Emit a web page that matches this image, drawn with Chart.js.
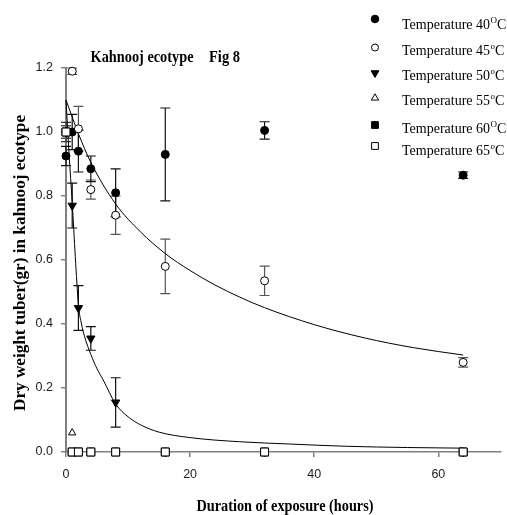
<!DOCTYPE html>
<html>
<head>
<meta charset="utf-8">
<script src="https://cdn.jsdelivr.net/npm/chart.js@4.4.0/dist/chart.umd.min.js"></script>
<style>
html, body { margin: 0; padding: 0; background: #fff; }
#wrap { width: 507px; height: 515px; }
</style>
</head>
<body>
<div id="wrap"><canvas id="myChart" width="507" height="515"></canvas></div>
<script>
// sampling times (hours)
const hours = [0, 1, 2, 4, 8, 16, 32, 64];

// mean dry weight per temperature + error bar half-length
const temp40 = [0.925, 1.0, 0.94, 0.885, 0.81, 0.93, 1.005, 0.865];
const err40 = [0.03, 0.055, 0.065, 0.04, 0.075, 0.145, 0.027, 0.01];
const temp45 = [1.0, 1.19, 1.01, 0.82, 0.74, 0.58, 0.535, 0.28];
const err45 = [0.02, 0.01, 0.07, 0.03, 0.06, 0.085, 0.046, 0.015];
const temp50 = [1.0, 0.77, 0.45, 0.355, 0.155, 0, 0, 0];
const err50 = [0.02, 0.07, 0.07, 0.037, 0.077, 0, 0, 0];
const temp55 = [1.0, 0.06, 0, 0, 0, 0, 0, 0];
const temp60 = [1.0, 0, 0, 0, 0, 0, 0, 0];
const temp65 = [1.0, 0, 0, 0, 0, 0, 0, 0];
const err65 = [0.03, 0, 0, 0, 0, 0, 0, 0];

// fitted curves
const slowFitX = [0, 2, 4, 8, 12, 16, 20, 24, 28, 32, 40, 48, 56, 64];
const slowFitY = [1.1, 0.995, 0.905, 0.775, 0.688, 0.62, 0.567, 0.522, 0.484, 0.451, 0.398, 0.357, 0.326, 0.303];
const fastFitX = [0, 0.5, 1, 1.5, 2, 2.5, 3, 4, 5, 6, 8, 10, 12, 15, 20, 28, 36, 45, 55, 64];
const fastFitY = [1.1, 0.93, 0.78, 0.61, 0.46, 0.4, 0.36, 0.305, 0.26, 0.225, 0.15, 0.11, 0.085, 0.062, 0.045, 0.032, 0.025, 0.018, 0.014, 0.012];

const legendTemps = ["40", "45", "50", "55", "60", "65"];
const legendSup = ["O", "o", "o", "o", "O", "o"];

const toPts = (xs, ys) => xs.map((x, i) => ({ x: x, y: ys[i] }));

function markerSet(values, errors, errColor, style, filled, radius, rotation, order) {
  return {
    data: toPts(hours, values),
    errors: errors,
    errColor: errColor,
    showLine: false,
    pointStyle: style,
    pointRadius: radius,
    pointRotation: rotation,
    pointBackgroundColor: filled ? "#000" : "#fff",
    pointBorderColor: "#000",
    pointBorderWidth: 1,
    clip: false,
    order: order,
  };
}

function fitSet(xs, ys) {
  return {
    data: toPts(xs, ys),
    showLine: true,
    borderColor: "#000",
    borderWidth: 1,
    pointRadius: 0,
    cubicInterpolationMode: "monotone",
    fill: false,
    clip: false,
    order: 10,
  };
}

const legendStyles = [
  { style: "circle", filled: true, r: 3.8, rot: 0 },
  { style: "circle", filled: false, r: 3.5, rot: 0 },
  { style: "triangle", filled: true, r: 4.5, rot: 180 },
  { style: "triangle", filled: false, r: 4.2, rot: 0 },
  { style: "rect", filled: true, r: 4.8, rot: 0 },
  { style: "rect", filled: false, r: 4.8, rot: 0 },
];

const errorBars = {
  id: "errorBars",
  beforeDatasetsDraw(chart) {
    const ctx = chart.ctx;
    const xs = chart.scales.x, ys = chart.scales.y;
    ctx.save();
    ctx.lineWidth = 1.2;
    chart.data.datasets.forEach((ds) => {
      if (!ds.errors) return;
      ctx.strokeStyle = ds.errColor;
      ds.data.forEach((p, i) => {
        const e = ds.errors[i];
        if (!e) return;
        const px = xs.getPixelForValue(p.x);
        const top = ys.getPixelForValue(p.y + e);
        const bot = ys.getPixelForValue(p.y - e);
        ctx.beginPath();
        ctx.moveTo(px, top); ctx.lineTo(px, bot);
        ctx.moveTo(px - 5, top); ctx.lineTo(px + 5, top);
        ctx.moveTo(px - 5, bot); ctx.lineTo(px + 5, bot);
        ctx.stroke();
      });
    });
    ctx.restore();
  },
};

// squeeze a string to a given width (the original font is narrow)
function fitText(ctx, text, x, y, width, rot) {
  const w = ctx.measureText(text).width;
  ctx.save();
  ctx.translate(x, y);
  if (rot) ctx.rotate(rot);
  ctx.scale(width / w, 1);
  ctx.textAlign = "center";
  ctx.fillText(text, 0, 0);
  ctx.restore();
}

function legendMarker(ctx, m, x, y) {
  ctx.save();
  ctx.fillStyle = m.filled ? "#000" : "#fff";
  ctx.strokeStyle = "#000";
  ctx.lineWidth = 1;
  Chart.helpers.drawPoint(ctx, { pointStyle: m.style, radius: m.r, rotation: m.rot, borderWidth: 1 }, x, y);
  ctx.restore();
}

const textLayer = {
  id: "textLayer",
  afterDraw(chart) {
    const ctx = chart.ctx;
    ctx.save();
    ctx.fillStyle = "#000";
    ctx.textBaseline = "alphabetic";

    ctx.font = "bold 16px 'Liberation Serif', 'Times New Roman', serif";
    fitText(ctx, "Kahnooj ecotype", 142, 62, 103);
    fitText(ctx, "Fig 8", 224.5, 62, 31);

    ctx.font = "bold 16px 'Liberation Serif', 'Times New Roman', serif";
    fitText(ctx, "Duration of exposure (hours)", 285, 511, 177);
    fitText(ctx, "Dry weight tuber(gr) in kahnooj ecotype", 25, 263, 296, -Math.PI / 2);

    const markY = [19, 47.5, 73, 98, 125, 146];
    const textY = [29, 55, 80, 105, 133, 155];
    legendTemps.forEach((t, i) => {
      legendMarker(ctx, legendStyles[i], 375, markY[i]);
      ctx.textAlign = "left";
      ctx.font = "14px 'Liberation Serif', 'Times New Roman', serif";
      let x = 402;
      const main = "Temperature " + t;
      ctx.fillText(main, x, textY[i]);
      x += ctx.measureText(main).width;
      ctx.font = "9px 'Liberation Serif', 'Times New Roman', serif";
      ctx.fillText(legendSup[i], x + 0.5, textY[i] - 6);
      x += ctx.measureText(legendSup[i]).width + 0.5;
      ctx.font = "14px 'Liberation Serif', 'Times New Roman', serif";
      ctx.fillText("C", x, textY[i]);
    });
    ctx.restore();
  },
};

const tickFont = { family: "'Liberation Sans', Arial, sans-serif", size: 12.5 };

new Chart(document.getElementById("myChart"), {
  type: "scatter",
  data: {
    datasets: [
      markerSet(temp65, err65, "#333", "rect", false, 5.6, 0, 0),
      markerSet(temp60, null, "#000", "rect", true, 5.6, 0, 1),
      markerSet(temp55, null, "#000", "triangle", false, 4.2, 0, 2),
      markerSet(temp50, err50, "#111", "triangle", true, 4.8, 180, 3),
      markerSet(temp45, err45, "#555", "circle", false, 4, 0, 4),
      markerSet(temp40, err40, "#111", "circle", true, 4, 0, 5),
      fitSet(slowFitX, slowFitY),
      fitSet(fastFitX, fastFitY),
    ],
  },
  options: {
    responsive: false,
    animation: false,
    layout: { padding: { top: 68, right: 1, left: 0, bottom: 0 } },
    plugins: { legend: { display: false }, tooltip: { enabled: false } },
    scales: {
      x: {
        type: "linear",
        min: 0,
        max: 70,
        afterFit: (s) => { s.height = 63; },
        ticks: { stepSize: 20, includeBounds: false, padding: 10, color: "#222", font: tickFont, maxRotation: 0 },
        grid: { drawOnChartArea: false, drawTicks: true, tickLength: 5, color: "#808080", lineWidth: 1.5 },
        border: { display: true, color: "#808080", width: 1.5 },
      },
      y: {
        min: 0,
        max: 1.2,
        afterFit: (s) => { s.width = 66; },
        ticks: { stepSize: 0.2, padding: 8, color: "#222", font: tickFont, callback: (v) => v.toFixed(1) },
        grid: { drawOnChartArea: false, drawTicks: true, tickLength: 5, color: "#808080", lineWidth: 1.5 },
        border: { display: true, color: "#808080", width: 2 },
      },
    },
  },
  plugins: [errorBars, textLayer],
});
</script>
</body>
</html>
